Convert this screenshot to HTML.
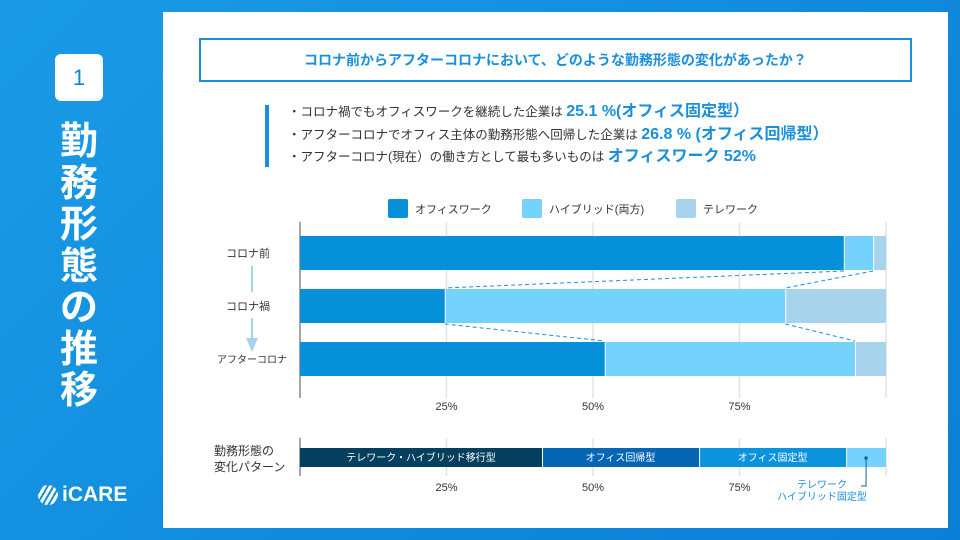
<!DOCTYPE html>
<html><head><meta charset="utf-8"><style>
body{margin:0;width:960px;height:540px;overflow:hidden;font-family:"Liberation Sans","Noto Sans CJK JP",sans-serif;background:linear-gradient(135deg,#1a9be6,#0a7fd6);position:relative}
.abs{position:absolute}
</style></head><body>
<div class="abs" style="left:55px;top:54px;width:48px;height:47px;background:#fff;border-radius:6px;color:#0b86d8;font-size:22px;text-align:center;line-height:47px">1</div>
<div class="abs" style="left:55px;top:122px;width:48px;color:#fff;font-size:38px;font-weight:bold;line-height:41.5px;text-align:center">勤<br>務<br>形<br>態<br>の<br>推<br>移</div>
<div class="abs" style="left:38px;top:483px;color:#fff;font-size:21px;font-weight:bold;display:flex;align-items:center;gap:4px"><span style="display:inline-block;width:20px;height:20px;border-radius:50%;background:repeating-linear-gradient(120deg,#fff 0 3px,transparent 3px 5px)"></span>iCARE</div>
<div class="abs" style="left:163px;top:12px;width:785px;height:516px;background:#fff"></div>
<div class="abs" style="left:199px;top:38px;width:709px;height:40px;border:2px solid #1a8fdc;color:#1a8fdc;font-size:14px;font-weight:bold;text-align:center;line-height:40px">コロナ前からアフターコロナにおいて、どのような勤務形態の変化があったか？</div>
<div class="abs" style="left:265px;top:105px;width:4px;height:62px;background:#1a8fdc"></div>
<div class="abs" style="left:288px;top:101px;font-size:12.5px;color:#333;line-height:22.5px">
<div>・コロナ禍でもオフィスワークを継続した企業は <b style="color:#1a8fdc;font-size:16px">25.1 %(オフィス固定型）</b></div>
<div>・アフターコロナでオフィス主体の勤務形態へ回帰した企業は <b style="color:#1a8fdc;font-size:16px">26.8 % (オフィス回帰型）</b></div>
<div>・アフターコロナ(現在）の働き方として最も多いものは <b style="color:#1a8fdc;font-size:16px">オフィスワーク 52%</b></div>
</div>
<svg class="abs" style="left:0;top:0" width="960" height="540" id="chart"></svg>
<script>
const categories=["コロナ前","コロナ禍","アフターコロナ"];
const office=[92.8,24.7,52];
const hybrid=[5,58.1,42.7];
const telework=[2.2,17.2,5.3];
const seriesNames=["オフィスワーク","ハイブリッド(両方)","テレワーク"];
const ticks=[25,50,75];
const tickLabels=["25%","50%","75%"];
const patternNames=["テレワーク・ハイブリッド移行型","オフィス回帰型","オフィス固定型",""];
const patternValues=[41.3,26.8,25.1,6.8];
const colors=["#0690d9","#74d2fc","#a8d3ec"];
const pColors=["#053f5e","#0567b4","#0c93de","#74d2fc"];
const svg=document.getElementById('chart');const NS="http://www.w3.org/2000/svg";
const x0=300,W=586;const X=v=>x0+v/100*W;
const rowY=i=>236+i*53;const bh=34;
function mk(t,a,txt){const e=document.createElementNS(NS,t);for(const k in a)e.setAttribute(k,a[k]);if(txt!=null)e.textContent=txt;svg.appendChild(e);return e;}
ticks.concat([100]).forEach(t=>{const g=mk('line',{x1:X(t),x2:X(t),y1:222,y2:398,stroke:'#e3e3e3','stroke-width':1.5});


const g2=mk('line',{x1:X(t),x2:X(t),y1:438,y2:476,stroke:'#e3e3e3','stroke-width':1.5});

});
const ax=mk('line',{x1:x0,x2:x0,y1:222,y2:398,stroke:'#888','stroke-width':1.5});


const ax2=mk('line',{x1:x0,x2:x0,y1:438,y2:476,stroke:'#888','stroke-width':1.5});


seriesNames.forEach((n,i)=>{const lx=[388,522,676][i];
const r=mk('rect',{x:lx,y:199,width:20,height:19,rx:2,fill:colors[i]});


const t=mk('text',{x:lx+27,y:213,'font-size':11,fill:'#333'},n);

});
const ends=[];
categories.forEach((c,i)=>{let acc=0;const vals=[office[i],hybrid[i],telework[i]];const e=[];
vals.forEach((v,j)=>{const r=mk('rect',{x:X(acc)+(j?1:0),y:rowY(i),width:Math.max(0,X(acc+v)-X(acc)-(j?1:0)),height:bh,fill:colors[j]});

acc+=v;e.push(X(acc));});ends.push(e);
const t=mk('text',{x:[248,248,252][i],y:rowY(i)+21,'font-size':i==2?10:11,fill:'#333','text-anchor':'middle'},c);

});
for(let i=0;i<2;i++){[0,1].forEach(j=>{const l=mk('line',{x1:ends[i][j],y1:rowY(i)+bh+1,x2:ends[i+1][j],y2:rowY(i+1)-1,stroke:'#1a8fdc','stroke-dasharray':'4,3','stroke-width':1});

});}
[[266,292],[318,342]].forEach(([a,b])=>{const ar=mk('line',{x1:252,x2:252,y1:a,y2:b,stroke:'#a8d3ec','stroke-width':2});

});
const ah=mk('polygon',{points:'246,338 258,338 252,352',fill:'#a8d3ec'});


ticks.forEach((t,i)=>{[410,491].forEach(y=>{const e=mk('text',{x:X(t),y:y,'font-size':11,fill:'#333','text-anchor':'middle'},tickLabels[i]);

});});
let acc=0;patternValues.forEach((v,j)=>{const r=mk('rect',{x:X(acc)+(j?1:0),y:448,width:X(acc+v)-X(acc)-(j?1:0),height:19,fill:pColors[j]});


if(patternNames[j]){const t=mk('text',{x:(X(acc)+X(acc+v))/2,y:461,'font-size':10,fill:'#fff','text-anchor':'middle'},patternNames[j]);

}acc+=v;});
const lastMid=(X(100-patternValues[3])+X(100))/2;
const dot=mk('circle',{cx:lastMid,cy:458,r:1.8,fill:'#1a5f9a'});


const cl=mk('polyline',{points:`${lastMid},459 ${lastMid},486 ${lastMid-5},486`,fill:'none',stroke:'#1a5f9a','stroke-width':1});


[["テレワーク",488],["ハイブリッド固定型",500]].forEach(([s,y])=>{const t=mk('text',{x:822,y:y,'font-size':10,fill:'#1a8fdc','text-anchor':'middle'},s);

});
[["勤務形態の",455],["変化パターン",471]].forEach(([s,y])=>{const t=mk('text',{x:214,y:y,'font-size':12,fill:'#333'},s);

});
</script>
</body></html>
